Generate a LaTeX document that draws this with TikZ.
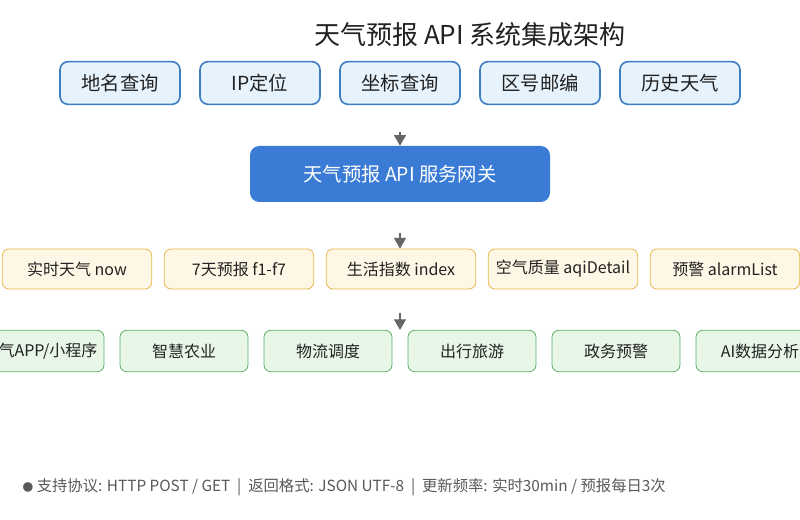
\documentclass[tikz,border=0pt]{standalone}
\usepackage{fontspec}
\setmainfont{Noto Sans CJK SC}
\usetikzlibrary{arrows.meta,positioning}
\definecolor{srcfill}{HTML}{E6F2FC}
\definecolor{srcline}{HTML}{3C7CC0}
\definecolor{gwfill}{HTML}{3A7BD5}
\definecolor{apifill}{HTML}{FFF7E6}
\definecolor{apiline}{HTML}{E8B84A}
\definecolor{appfill}{HTML}{E8F6E8}
\definecolor{appline}{HTML}{5CB06A}
\definecolor{txt}{HTML}{222222}
\tikzset{
  src/.style={draw=srcline, fill=srcfill, line width=1.2pt, rounded corners=6pt,
    minimum width=90pt, minimum height=32pt, font=\fontsize{14.5}{16}\selectfont, text=txt},
  api/.style={draw=apiline, fill=apifill, line width=0.6pt, rounded corners=5pt,
    minimum width=112pt, minimum height=30pt, font=\fontsize{12}{14}\selectfont, text=txt},
  app/.style={draw=appline, fill=appfill, line width=0.6pt, rounded corners=5pt,
    minimum width=96pt, minimum height=31pt, font=\fontsize{12}{14}\selectfont, text=txt},
  flow/.style={draw=gray!80!black, line width=0.8pt, -{Triangle[length=8pt,width=9pt]}}
}
\begin{document}
\begin{tikzpicture}[x=0.75pt,y=-0.75pt]
  \useasboundingbox[fill=white] (0,0) rectangle (800,520);
  \node (title) [font=\fontsize{19.5}{22}\selectfont, text=txt] at (470,35) {天气预报 API 系统集成架构};
  % sources
  \node (s1) [src] at (120,83) {地名查询};
  \node (s2) [src] at (260,83) {IP定位};
  \node (s3) [src] at (400,83) {坐标查询};
  \node (s4) [src] at (540,83) {区号邮编};
  \node (s5) [src] at (680,83) {历史天气};
  % gateway
  \node (gw) [fill=gwfill, rounded corners=7pt, minimum width=225pt, minimum height=42pt,
    text=white, font=\fontsize{14.5}{16}\selectfont] at (400,174) {天气预报 API 服务网关};
  % interfaces
  \node (a1) [api] at (77,269) {实时天气 now};
  \node (a2) [api] at (239,269) {7天预报 f1-f7};
  \node (a3) [api] at (401,269) {生活指数 index};
  \node (a4) [api] at (563,269) {空气质量 aqiDetail};
  \node (a5) [api] at (725,269) {预警 alarmList};
  % applications
  \node (p1) [app] at (40,351) {天气APP/小程序};
  \node (p2) [app] at (184,351) {智慧农业};
  \node (p3) [app] at (328,351) {物流调度};
  \node (p4) [app] at (472,351) {出行旅游};
  \node (p5) [app] at (616,351) {政务预警};
  \node (p6) [app] at (760,351) {AI数据分析};
  \coordinate (f1) at (400,132);
  \coordinate (f2) at (400,233);
  \coordinate (f3) at (400,313);
  \draw[flow] (f1) -- (gw.north);
  \draw[flow] (f2) -- (a3.north -| f2);
  \draw[flow] (f3) -- (p3.north -| f3);
  \node (note) [anchor=west, text=gray!70!black, font=\fontsize{11.5}{13}\selectfont] at (18,487)
    {{\fontsize{8}{9}\selectfont●} 支持协议: HTTP POST / GET \ | \ 返回格式: JSON UTF-8 \ | \ 更新频率: 实时30min / 预报每日3次};
\end{tikzpicture}
\end{document}
